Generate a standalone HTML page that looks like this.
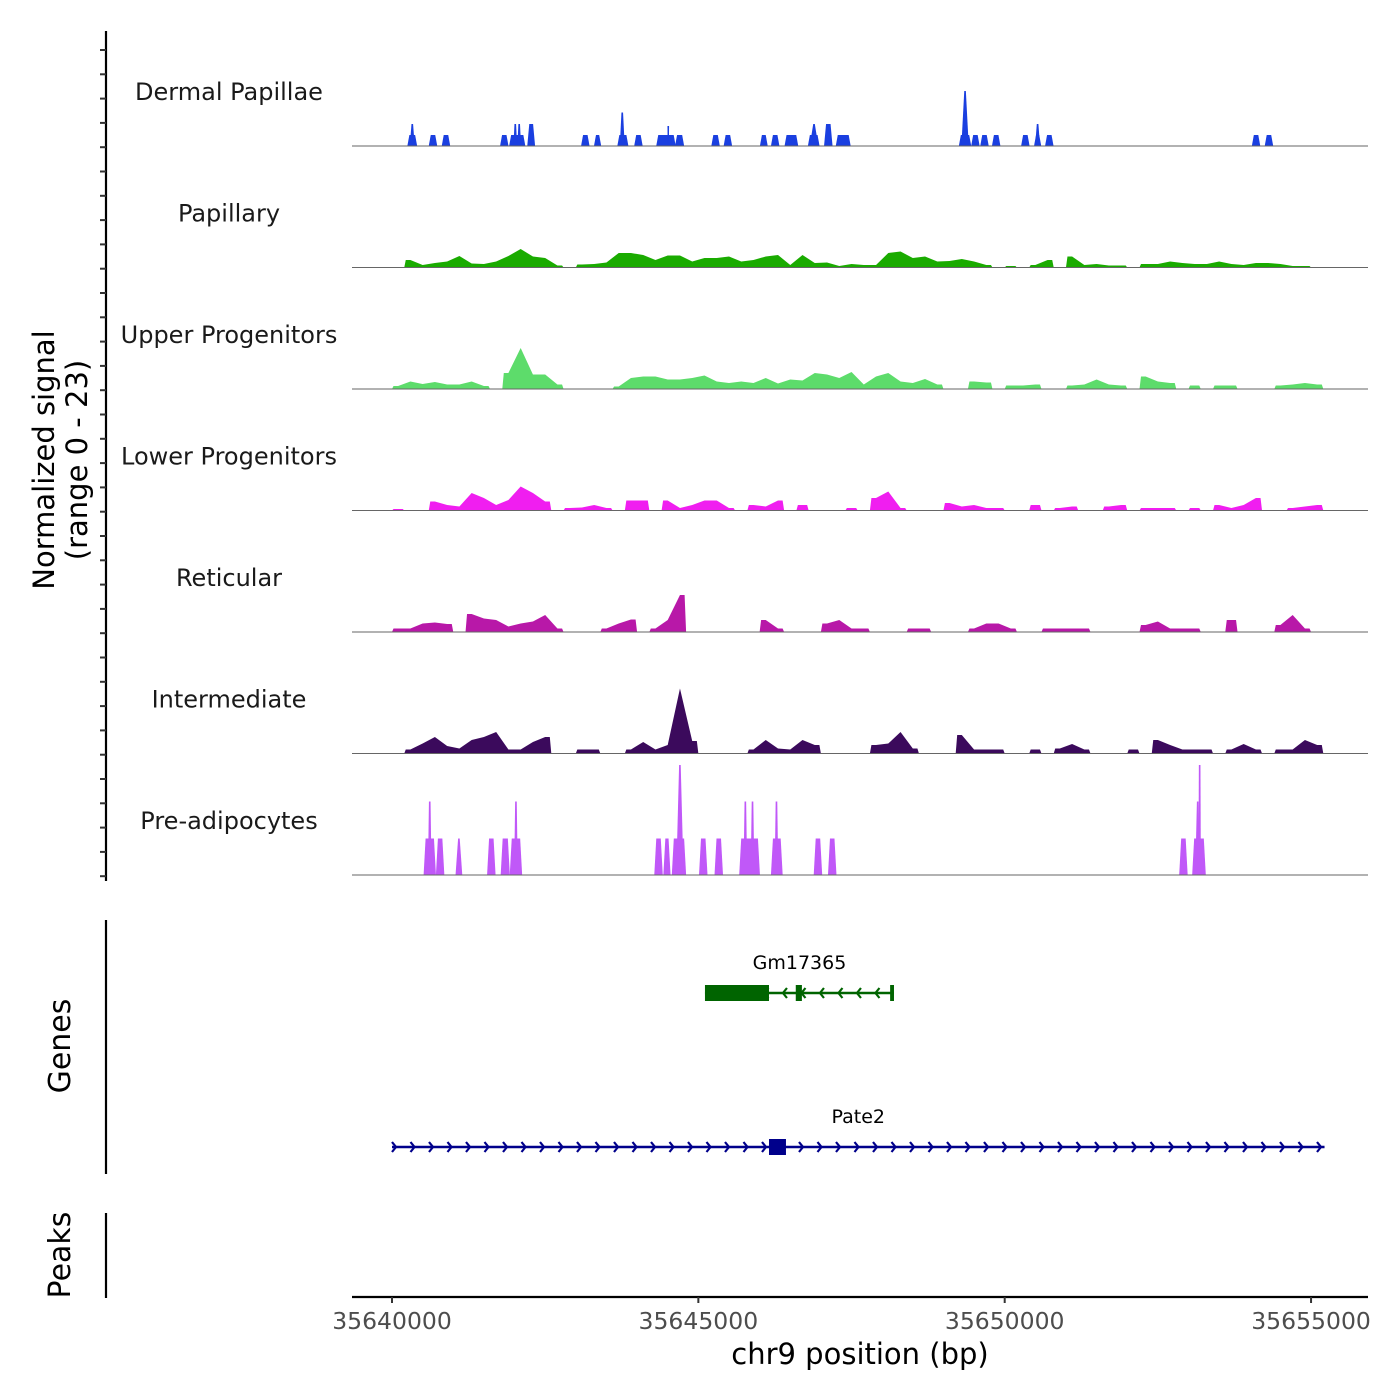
<!DOCTYPE html>
<html><head><meta charset="utf-8"><style>
html,body{margin:0;padding:0;background:#fff}
svg{display:block;font-family:"DejaVu Sans","Liberation Sans",sans-serif}
</style></head><body>
<svg id="chart" width="1400" height="1400" viewBox="0 0 1400 1400" xmlns="http://www.w3.org/2000/svg">
<g id="tracks"></g>
<g id="yaxis"></g>
<text transform="translate(54,460) rotate(-90)" text-anchor="middle" font-size="29" fill="#000">Normalized signal</text>
<text transform="translate(87,460) rotate(-90)" text-anchor="middle" font-size="29" fill="#000">(range 0 - 23)</text>
<g id="genes"></g>
<line x1="106" y1="920" x2="106" y2="1174" stroke="#000" stroke-width="2.2"/>
<text transform="translate(70,1046) rotate(-90)" text-anchor="middle" font-size="30">Genes</text>
<line x1="106" y1="1213" x2="106" y2="1298" stroke="#000" stroke-width="2.2"/>
<text transform="translate(70,1255) rotate(-90)" text-anchor="middle" font-size="30">Peaks</text>
<g id="xaxis"></g>
<text x="860" y="1364" text-anchor="middle" font-size="29">chr9 position (bp)</text>
</svg>
<script>
// ---- data (kb offsets from 35640000; signal units) ----
const trackNames = ["Dermal Papillae","Papillary","Upper Progenitors","Lower Progenitors","Reticular","Intermediate","Pre-adipocytes"];
const trackColors = ["#1a3fe0","#1aab00","#5ddc6b","#f01ef0","#b818a8","#3b0a5c","#c058f8"];
const binStartKb = -0.6;
const binWidthKb = 0.2;
const papillaryBins = [0,0,0,0,1.5,0.5,0.9,1.2,2.3,0.8,0.7,1.2,2.3,3.7,2.2,1.9,0.4,0,0.6,0.7,1.0,2.9,2.9,2.5,1.5,2.4,2.4,1.2,1.9,1.9,2.2,1.2,1.5,2.2,2.5,0.5,2.5,0.9,1.0,0.3,0.7,0.5,0.5,2.9,3.2,1.9,2.2,1.2,1.3,1.7,1.2,0.5,0,0.3,0,0.5,1.5,0,2.2,0.5,0.7,0.4,0.4,0,0.7,0.7,1.2,0.9,0.7,0.7,1.2,0.7,0.5,0.9,0.9,0.7,0.3,0.3,0,0];
const upperBins = [0,0,0,0.6,1.5,1.0,1.4,0.9,0.9,1.5,0.6,0,3.2,8.2,2.9,2.9,0.9,0,0,0,0,0.5,2.2,2.5,2.5,1.9,1.9,2.2,2.7,1.5,1.2,1.5,1.2,2.2,1.1,1.9,1.7,3.2,2.9,2.2,3.4,0.9,2.5,3.2,1.5,1.2,2.0,0.9,0,0,1.5,1.3,0,0.7,0.7,0.9,0,0,0.7,0.9,1.9,0.9,0.7,0,2.5,1.5,1.2,0,0.7,0,0.7,0.7,0,0,0,0.7,0.9,1.2,0.9,0];
const lowerBins = [0,0,0,0.3,0,0,1.8,1.1,0.8,3.5,2.5,1.1,2.1,4.8,3.5,1.8,0,0.5,0.6,1.1,0.5,0,2.0,2.0,0,2.0,0.5,1.1,2.0,2.0,0.5,0,1.1,0.8,2.0,0,1.1,0,0,0,0.5,0,2.5,3.8,0.5,0,0,0,1.5,0.8,1.1,0.5,0.5,0,0,1.1,0,0.5,0.8,0,0,0.8,1.1,0,0.5,0.5,0.5,0,0.5,0,1.1,0.5,1.1,2.5,0,0,0.5,0.8,1.1,0];
const reticularBins = [0,0,0,0.7,0.7,1.7,1.9,1.6,0,3.6,2.7,2.4,1.1,1.7,2.1,3.4,0.7,0,0,0,0.7,1.7,2.5,0,0.7,2.4,7.4,0,0,0,0,0,0,2.4,0.7,0,0,0,1.7,2.4,0.7,0.7,0,0,0,0.7,0.7,0,0,0,0.7,1.7,1.7,0.7,0,0,0.7,0.7,0.7,0.7,0,0,0,0,1.4,2.1,0.7,0.7,0.7,0,0,2.4,0,0,0,1.4,3.4,0.7,0,0];
const intermediateBins = [0,0,0,0,0.8,2.0,3.3,1.5,1.0,2.7,3.3,4.3,0.8,0.8,2.3,3.3,0,0,0.8,0.8,0,0,0.8,2.3,0.8,1.7,13,2.5,0,0,0,0,0.8,2.7,1.0,0.8,2.7,1.7,0,0,0,0,1.7,2.0,4.3,1.0,0,0,0,3.7,0.8,0.8,0.8,0,0,0.8,0,1.0,1.9,0.8,0,0,0,0.8,0,2.7,1.7,0.8,0.8,0.8,0,0.8,1.9,0.8,0,0.8,0.8,2.7,1.7,0];
// block tracks: [startKb, endKb, height]
const dermalBlocks = [[0.267,0.394,2.2],[0.616,0.722,2.2],[0.828,0.934,2.2],[1.78,1.885,2.2],[1.928,2.16,2.2],[2.224,2.319,4.4],[3.102,3.208,2.2],[3.313,3.398,2.2],[3.694,3.842,2.2],[3.969,4.075,2.2],[4.329,4.614,2.2],[4.636,4.752,2.2],[5.228,5.334,2.2],[5.429,5.535,2.2],[6.021,6.116,2.2],[6.201,6.307,2.2],[6.423,6.614,2.2],[6.804,6.962,2.2],[7.068,7.174,4.4],[7.259,7.47,2.2],[9.268,9.437,2.2],[9.469,9.575,2.2],[9.617,9.723,2.2],[9.808,9.914,2.2],[10.284,10.39,2.2],[10.495,10.58,2.2],[10.675,10.781,2.2],[14.05,14.155,2.2],[14.26,14.366,2.2]];
// spikes: [centerKb, halfWidthKb, height]
const dermalSpikes = [[0.331,0.04,4.4],[2.012,0.03,4.4],[2.076,0.03,4.4],[3.758,0.04,6.7],[4.509,0.01,4.0],[6.888,0.07,4.4],[10.537,0.04,4.4],[9.353,0.06,11]];
const preadBlocks = [[0.532,0.701,7.3],[0.733,0.838,7.3],[1.568,1.674,7.3],[1.79,1.907,7.3],[1.938,2.108,7.3],[4.297,4.403,7.3],[4.445,4.53,7.3],[4.583,4.784,7.3],[5.027,5.133,7.3],[5.28,5.386,7.3],[5.683,5.989,7.3],[6.201,6.36,7.3],[6.899,7.005,7.3],[7.132,7.238,7.3],[12.864,12.97,7.3],[13.076,13.266,7.3]];
const preadSpikes = [[1.092,0.055,7.3],[0.616,0.03,14.7],[2.023,0.03,14.7],[4.699,0.06,22],[5.767,0.03,14.7],[5.884,0.03,14.7],[6.275,0.03,14.7],[13.15,0.04,14.7],[13.182,0.02,22]];
const xTickKb = [0,5,10,15];
const xTickLabels = ["35640000","35645000","35650000","35655000"];
// genes
const geneNames = ["Gm17365","Pate2"];
const geneStarts = [5.108,0];
const geneEnds = [8.193,15.22];
const geneStrands = [-1,1];
const geneExons = [[[5.108,6.153],[6.59,6.69],[8.13,8.193]],[[6.153,6.43]]];

// ---- scales ----
const NS="http://www.w3.org/2000/svg";
const X0=392, PXKB=61.27;
function x(kb){return X0+kb*PXKB;}
const YMAX=23, TRACK_H=115;
function base(i){return 146+121.5*i;}
function y(i,v){return base(i)-v/YMAX*TRACK_H;}
function mk(tag,attrs,parent){const e=document.createElementNS(NS,tag);for(const k in attrs)e.setAttribute(k,attrs[k]);parent.appendChild(e);return e;}

const tracks=document.getElementById('tracks');
const binTracks={1:papillaryBins,2:upperBins,3:lowerBins,4:reticularBins,5:intermediateBins};
trackNames.forEach((nm,i)=>{
  const g=mk('g',{},tracks);
  
  
  const lab=mk('text',{x:229,y:base(i)-46,'text-anchor':'middle','font-size':'24',fill:'#1a1a1a'},g);
  lab.textContent=nm;
  
  
  const col=trackColors[i];
  if(binTracks[i]){
    const bins=binTracks[i];
    let d='';let k=0;
    while(k<bins.length){
      if(bins[k]>0){
        let s=k;while(k<bins.length&&bins[k]>0)k++;
        const xl=x(binStartKb+s*binWidthKb), xr=x(binStartKb+k*binWidthKb);
        d+='M'+xl+','+base(i)+' L'+(xl+1.5)+','+y(i,bins[s]);
        for(let j=s;j<k;j++){d+=' L'+x(binStartKb+(j+0.5)*binWidthKb)+','+y(i,bins[j]);}
        d+=' L'+(xr-1.5)+','+y(i,bins[k-1])+' L'+xr+','+base(i)+'Z ';
      } else k++;
    }
    const p=mk('path',{d:d,fill:col},g);
    
    
  } else {
    const blocks=i===0?dermalBlocks:preadBlocks;
    const spikes=i===0?dermalSpikes:preadSpikes;
    blocks.forEach(b=>{
      const p=mk('path',{d:'M'+(x(b[0])-1)+','+base(i)+' L'+(x(b[0])+1)+','+y(i,b[2])+' L'+(x(b[1])-1)+','+y(i,b[2])+' L'+(x(b[1])+1)+','+base(i)+'Z',fill:col},g);
      
      
    });
    spikes.forEach(s=>{
      const p=mk('path',{d:'M'+x(s[0]-s[1])+','+base(i)+' L'+(x(s[0])-0.8)+','+y(i,s[2])+' L'+(x(s[0])+0.8)+','+y(i,s[2])+' L'+x(s[0]+s[1])+','+base(i)+'Z',fill:col},g);
      
      
    });
  }
  const bl=mk('line',{x1:352,x2:1368,y1:base(i),y2:base(i),stroke:'#666',"stroke-width":1},g);
  
  
});

// y axis
const ya=document.getElementById('yaxis');
const yl=mk('line',{x1:106,x2:106,y1:31,y2:881,stroke:'#000','stroke-width':2.2},ya);


for(let t=0;t<35;t++){
  const ty=50+24.3*t; if(ty>880)break;
  const tl=mk('line',{x1:100,x2:106,y1:ty,y2:ty,stroke:'#333','stroke-width':2},ya);
  
  
}

// genes
const gg=document.getElementById('genes');
const geneY=[993,1147], geneCol=["#006400","#00008b"], labY=[969,1123];
geneNames.forEach((nm,gi)=>{
  const g=mk('g',{},gg);
  
  
  const c=geneCol[gi], yy=geneY[gi];
  const x1=x(geneStarts[gi]), x2=x(geneEnds[gi]);
  mk('line',{x1:x1,x2:x2,y1:yy,y2:yy,stroke:c,'stroke-width':2.5},g);
  for(let ax=x1+4;ax<x2-2;ax+=18.5){
    const dir=geneStrands[gi];
    const a=mk('polyline',{points:(ax-4*dir)+','+(yy-5)+' '+ax+','+yy+' '+(ax-4*dir)+','+(yy+5),fill:'none',stroke:c,'stroke-width':2.2},g);
    
    
  }
  geneExons[gi].forEach(e=>{
    const r=mk('rect',{x:x(e[0]),y:yy-8,width:x(e[1])-x(e[0]),height:16,fill:c},g);
    
    
  });
  const t=mk('text',{x:(x1+x2)/2,y:labY[gi],'text-anchor':'middle','font-size':'19',fill:'#000'},g);
  t.textContent=nm;
  
  
});

// x axis
const xa=document.getElementById('xaxis');
const xl=mk('line',{x1:352,x2:1368,y1:1297,y2:1297,stroke:'#000','stroke-width':2.2},xa);


xTickKb.forEach((k,ti)=>{
  const tk=mk('line',{x1:x(k),x2:x(k),y1:1297,y2:1303,stroke:'#333','stroke-width':2},xa);
  
  
  const tt=mk('text',{x:x(k),y:1329,'text-anchor':'middle','font-size':'23.5',fill:'#4d4d4d'},xa);
  tt.textContent=xTickLabels[ti];
  
  
});
</script>
</body></html>
